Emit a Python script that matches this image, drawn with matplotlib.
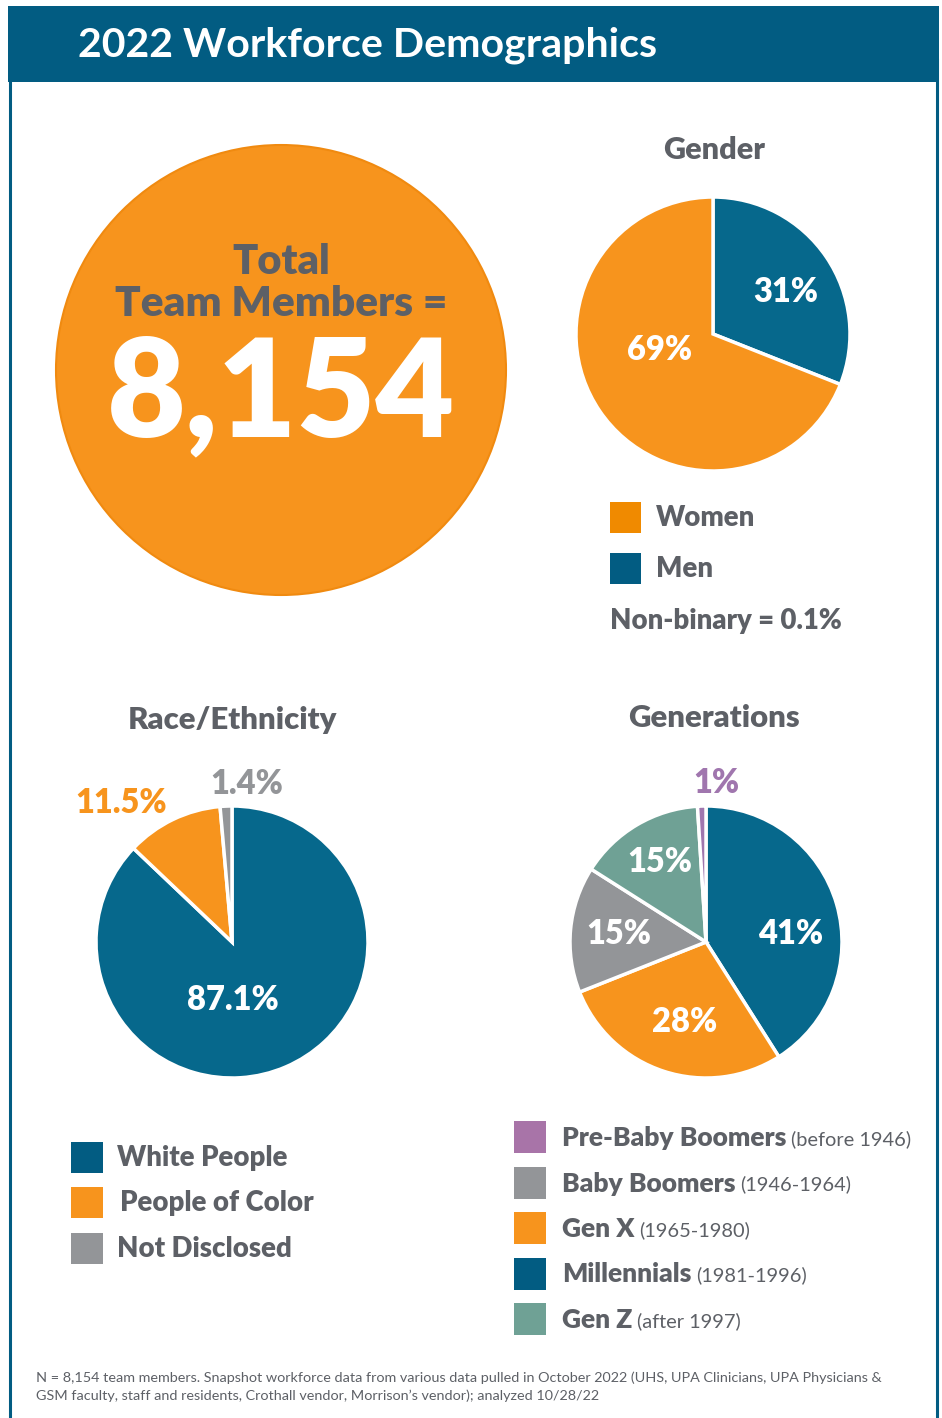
import matplotlib
matplotlib.use("Agg")
import matplotlib.pyplot as plt
from matplotlib.patches import Rectangle, Circle

# ---------------- data ----------------
title = "2022 Workforce Demographics"
total_members = "8,154"

gender_labels = ["Men", "Women"]
gender_values = [31, 69]

race_labels = ["White People", "People of Color", "Not Disclosed"]
race_values = [87.1, 11.5, 1.4]

gen_labels = ["Millennials", "Gen X", "Baby Boomers", "Gen Z", "Pre-Baby Boomers"]
gen_values = [41, 28, 15, 15, 1]
gen_legend_names = ["Pre-Baby Boomers", "Baby Boomers", "Gen X", "Millennials", "Gen Z"]
gen_legend_years = ["(before 1946)", "(1946-1964)", "(1965-1980)", "(1981-1996)", "(after 1997)"]

footnote = ("N = 8,154 team members. Snapshot workforce data from various data pulled in October 2022 (UHS, UPA Clinicians, UPA Physicians &\n"
            "GSM faculty, staff and residents, Crothall vendor, Morrison\u2019s vendor); analyzed 10/28/22")

# ---------------- styles ----------------
W, H = 942, 1418
BLUE = "#06688C"
BLUE_DARK = "#025C82"
ORANGE = "#F7941D"
ORANGE_LEG = "#F08A00"
GRAY = "#939598"
TEAL = "#6FA195"
PURPLE = "#A076AE"
TXT = "#5D6066"
FONT = "Lato"
PCT = 23.5

plt.rcParams["font.family"] = [FONT, "DejaVu Sans"]

fig = plt.figure(figsize=(W / 100, H / 100), dpi=100)
bg = fig.add_axes([0, 0, 1, 1])
bg.set_xlim(0, W)
bg.set_ylim(H, 0)
bg.axis("off")

# frame and header
bg.add_patch(Rectangle((10, 60), 927, 1370, facecolor="white", edgecolor=BLUE_DARK, lw=2.2))
bg.add_patch(Rectangle((8, 6), 931, 76, facecolor=BLUE_DARK, edgecolor="none"))
bg.text(78, 45, title, color="white", fontsize=29.6, fontweight="bold", va="center", ha="left")

# big circle
bg.add_patch(Circle((281, 370), 225, facecolor=ORANGE, edgecolor="#F08A10", lw=1.5))
bg.text(281, 262, "Total", color=TXT, fontsize=30, fontweight="heavy", ha="center", va="center")
bg.text(281, 304, "Team Members =", color=TXT, fontsize=30.5, fontweight="heavy", ha="center", va="center")
bg.text(281, 396, total_members, color="white", fontsize=98, fontweight="heavy", ha="center", va="center")


def pie_axes(cx, cy, r):
    ax = fig.add_axes([(cx - r) / W, 1 - (cy + r) / H, 2 * r / W, 2 * r / H])
    return ax


def finish(ax):
    ax.set_xlim(-1, 1)
    ax.set_ylim(-1, 1)
    ax.set_aspect("equal")
    ax.axis("off")


wp = dict(edgecolor="white", linewidth=2.5)

# ---------------- Gender ----------------
bg.text(714, 150, "Gender", color=TXT, fontsize=22, fontweight="heavy", ha="center", va="center")
ax = pie_axes(713, 334, 137)
ax.pie(gender_values, colors=[BLUE, ORANGE], startangle=90, counterclock=False, wedgeprops=wp, radius=1)
finish(ax)
ax.text(0.53, 0.31, f"{gender_values[0]}%", color="white", fontsize=PCT, fontweight="heavy", ha="center", va="center")
ax.text(-0.39, -0.12, f"{gender_values[1]}%", color="white", fontsize=PCT, fontweight="heavy", ha="center", va="center")

for i, (lab, col) in enumerate(zip(["Women", "Men"], [ORANGE_LEG, BLUE_DARK])):
    y = 517 + i * 51
    bg.add_patch(Rectangle((610, y - 15), 31, 31, facecolor=col, edgecolor="none"))
    bg.text(656, y + 1, lab, color=TXT, fontsize=19.8, fontweight="heavy", ha="left", va="center")
bg.text(610, 621, "Non-binary = 0.1%", color=TXT, fontsize=19.8, fontweight="heavy", ha="left", va="center")

# ---------------- Race ----------------
bg.text(232, 720, "Race/Ethnicity", color=TXT, fontsize=22.4, fontweight="heavy", ha="center", va="center")
ax = pie_axes(232, 942, 136)
ax.pie(race_values, colors=[BLUE, ORANGE, GRAY], startangle=90, counterclock=False, wedgeprops=wp, radius=1)
finish(ax)
ax.text(0.01, -0.43, f"{race_values[0]}%", color="white", fontsize=PCT, fontweight="heavy", ha="center", va="center")
bg.text(121, 803, f"{race_values[1]}%", color=ORANGE, fontsize=PCT, fontweight="heavy", ha="center", va="center")
bg.text(247, 784, f"{race_values[2]}%", color=GRAY, fontsize=PCT, fontweight="heavy", ha="center", va="center")

race_leg_colors = [BLUE_DARK, ORANGE, GRAY]
race_leg_x = [117, 120, 117]
for i, (lab, col) in enumerate(zip(race_labels, race_leg_colors)):
    y = 1157 + i * 45.5
    bg.add_patch(Rectangle((71, y - 15.5), 32, 31, facecolor=col, edgecolor="none"))
    bg.text(race_leg_x[i], y + 1, lab, color=TXT, fontsize=19.8, fontweight="heavy", ha="left", va="center")

# ---------------- Generations ----------------
bg.text(714, 718, "Generations", color=TXT, fontsize=22.4, fontweight="heavy", ha="center", va="center")
ax = pie_axes(706, 942, 136)
ax.pie(gen_values, colors=[BLUE, ORANGE, GRAY, TEAL, PURPLE], startangle=90, counterclock=False, wedgeprops=wp, radius=1)
finish(ax)
ax.text(0.62, 0.06, f"{gen_values[0]}%", color="white", fontsize=PCT, fontweight="heavy", ha="center", va="center")
ax.text(-0.16, -0.59, f"{gen_values[1]}%", color="white", fontsize=PCT, fontweight="heavy", ha="center", va="center")
ax.text(-0.64, 0.06, f"{gen_values[2]}%", color="white", fontsize=PCT, fontweight="heavy", ha="center", va="center")
ax.text(-0.34, 0.59, f"{gen_values[3]}%", color="white", fontsize=PCT, fontweight="heavy", ha="center", va="center")
bg.text(716, 783, f"{gen_values[4]}%", color=PURPLE, fontsize=PCT, fontweight="heavy", ha="center", va="center")

gen_leg_colors = ["#A874A8", GRAY, ORANGE, BLUE_DARK, TEAL]
fig.canvas.draw()
renderer = fig.canvas.get_renderer()
for i, (name, yrs, col) in enumerate(zip(gen_legend_names, gen_legend_years, gen_leg_colors)):
    y = 1137 + i * 45.5
    bg.add_patch(Rectangle((514, y - 16), 32, 32, facecolor=col, edgecolor="none"))
    t = bg.text(562, y + 1, name, color=TXT, fontsize=19, fontweight="heavy", ha="left", va="center")
    bb = t.get_window_extent(renderer=renderer)
    x_end = bg.transData.inverted().transform((bb.x1, bb.y0))[0]
    bg.text(x_end + 5, y + 2, yrs, color=TXT, fontsize=14.4, fontweight="normal", ha="left", va="center")

# footnote
bg.text(36, 1387, footnote, color=TXT, fontsize=10.4, ha="left", va="center", linespacing=1.55)

fig.savefig("out.png", dpi=100)
